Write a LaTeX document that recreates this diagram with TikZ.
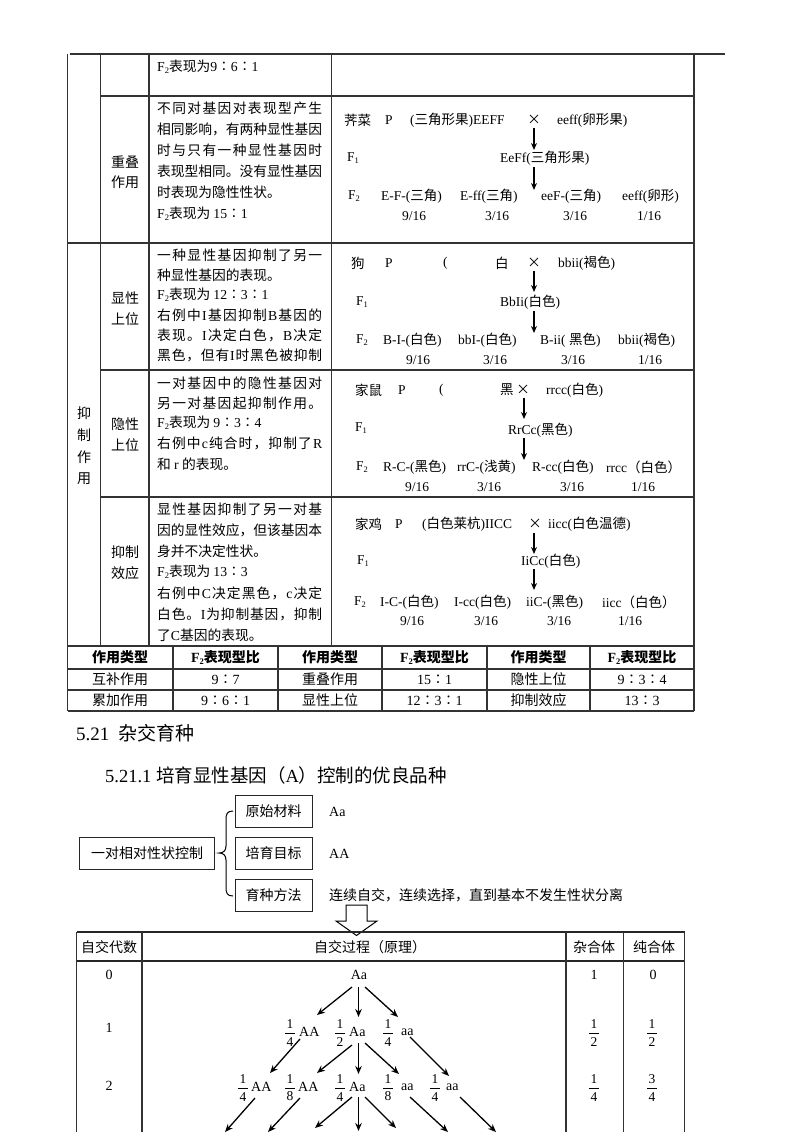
\documentclass[tikz,border=0pt]{standalone}
\usepackage{fontspec}
\setmainfont{Liberation Serif}
\newfontfamily\cjk{Noto Sans CJK SC}
\usetikzlibrary{arrows.meta}
\XeTeXinterchartokenstate=1
\newXeTeXintercharclass\CJKcls
\newcount\mycnt
\def\setcjkrange#1#2{\mycnt=#1\relax
  \loop\XeTeXcharclass\mycnt=\CJKcls\relax\advance\mycnt by 1\relax\ifnum\mycnt<#2\relax\repeat}
\setcjkrange{"3000}{"3040}
\setcjkrange{"4E00}{"A000}
\setcjkrange{"FF00}{"FFF0}
\XeTeXcharclass"2236=\CJKcls
\XeTeXcharclass"00D7=\CJKcls
\XeTeXinterchartoks 0 \CJKcls={\cjk}
\XeTeXinterchartoks 4095 \CJKcls={\cjk}
\XeTeXinterchartoks \CJKcls 0={\rmfamily}
\XeTeXinterchartoks 4095 0={\rmfamily}
\def\spreadA#1{#1\spreadB}
\def\spreadB#1{\ifx\relax#1\else\hfil#1\expandafter\spreadB\fi}
\newcommand\jl[1]{\makebox[165pt][s]{\spreadA#1\relax}}
\newcommand\lowsub[1]{\raisebox{-0.35ex}{\fontsize{8.5}{9}\selectfont #1}}
\newcommand\fracd[2]{\vbox{\offinterlineskip\halign{\hfil\kern1.6pt##\kern1.6pt\hfil\cr #1\cr\noalign{\kern4pt\hrule height0.7pt\kern3.5pt}#2\cr}}}
\tikzset{
 tl/.style={draw=black!80,line width=1.1pt},
 tk/.style={draw=black!80,line width=2.4pt},
 tx/.style={anchor=west,inner sep=0pt,font=\fontsize{13.75}{16}\selectfont},
 lb/.style={anchor=center,inner sep=0pt,font=\fontsize{14}{16}\selectfont},
 gn/.style={anchor=west,inner sep=0pt,font=\fontsize{13.5}{16}\selectfont},
 gc/.style={anchor=center,inner sep=0pt,font=\fontsize{13.5}{16}\selectfont},
 hd/.style={anchor=center,inner sep=0pt,font=\fontsize{14}{16}\selectfont\bfseries},
 sm/.style={anchor=center,inner sep=0pt,font=\fontsize{14}{16}\selectfont},
 bx/.style={draw=black!85,line width=1pt,minimum height=32pt,inner sep=0pt,font=\fontsize{14}{16}\selectfont},
 arr/.style={-{Stealth[length=8pt,width=6.5pt]},line width=1.3pt},
 garr/.style={-{Stealth[length=7pt,width=6pt]},line width=1.2pt},
 fr/.style={anchor=center,inner sep=0pt,font=\fontsize{13.5}{15}\selectfont},
}
\begin{document}
\begin{tikzpicture}[x=1pt,y=-1pt]
\useasboundingbox (0,0) rectangle (800,1132);
% ---------- main table lines
\draw[tl] (70,54) -- (725,54);
\draw[tl] (67.5,54) -- (67.5,711);
\draw[tl] (100.5,54) -- (100.5,646);
\draw[tl] (149,54) -- (149,646);
\draw[tl] (331.5,54) -- (331.5,646);
\draw[tl] (694,54) -- (694,711);
\draw[tl] (100.5,96) -- (694,96);
\draw[tl] (67.5,243) -- (694,243);
\draw[tl] (100.5,370) -- (694,370);
\draw[tl] (100.5,497) -- (694,497);
% summary table
\draw[draw=black!80,line width=2pt] (67.5,646) -- (694,646);
\draw[tl] (67.5,669) -- (694,669);
\draw[tl] (67.5,690) -- (694,690);
\draw[tl] (67.5,711) -- (694,711);
\draw[tl] (173,646) -- (173,711);
\draw[tl] (382,646) -- (382,711);
\draw[tl] (590,646) -- (590,711);
\draw[tk] (278,646) -- (278,711);
\draw[tk] (487,646) -- (487,711);
% ---------- row 0
\node[tx] (r0) at (157,67) {F\lowsub{2}表现为9∶6∶1};
% ---------- 重叠作用
\node[lb] (l1a) at (125,162) {重叠};
\node[lb] (l1b) at (125,182) {作用};
\node[tx] (c1a) at (157,108) {\jl{不同对基因对表现型产生}};
\node[tx] (c1b) at (157,129) {\jl{相同影响，有两种显性基因}};
\node[tx] (c1c) at (157,150) {\jl{时与只有一种显性基因时}};
\node[tx] (c1d) at (157,171) {\jl{表现型相同。没有显性基因}};
\node[tx] (c1e) at (157,192) {时表现为隐性性状。};
\node[tx] (c1f) at (157,214) {F\lowsub{2}表现为 15∶1};
\node[gn] (j1) at (344,120) {荠菜};
\node[gn] (j2) at (385,120) {P};
\node[gn] (j3) at (410,120) {(三角形果)EEFF};
\node[gc] (j4) at (534,120) {×};
\node[gn] (j5) at (557,120) {eeff(卵形果)};
\node[gn] (j6) at (347,158) {F\lowsub{1}};
\node[gn] (j7) at (500,158) {EeFf(三角形果)};
\node[gn] (j8) at (348,196) {F\lowsub{2}};
\node[gn] (j9) at (381,196) {E-F-(三角)};
\node[gn] (j10) at (460,196) {E-ff(三角)};
\node[gn] (j11) at (541,196) {eeF-(三角)};
\node[gn] (j12) at (622,196) {eeff(卵形)};
\node[gc] (j13) at (414,216) {9/16};
\node[gc] (j14) at (497,216) {3/16};
\node[gc] (j15) at (575,216) {3/16};
\node[gc] (j16) at (649,216) {1/16};
\coordinate (ja1) at (534,128); \coordinate (jb1) at (534,150);
\coordinate (ja2) at (534,167); \coordinate (jb2) at (534,190);
\draw[garr] (ja1) -- (jb1);
\draw[garr] (ja2) -- (jb2);
% ---------- 抑制作用 outer label
\node[lb] (o1) at (84,413) {抑};
\node[lb] (o2) at (84,435) {制};
\node[lb] (o3) at (84,457) {作};
\node[lb] (o4) at (84,479) {用};
% ---------- 显性上位
\node[lb] (l2a) at (125,298) {显性};
\node[lb] (l2b) at (125,319) {上位};
\node[tx] (c2a) at (157,255) {\jl{一种显性基因抑制了另一}};
\node[tx] (c2b) at (157,275) {种显性基因的表现。};
\node[tx] (c2c) at (157,295) {F\lowsub{2}表现为 12∶3∶1};
\node[tx] (c2d) at (157,315) {\jl{右例中I基因抑制B基因的}};
\node[tx] (c2e) at (157,335) {\jl{表现。I决定白色，B决定}};
\node[tx] (c2f) at (157,355) {\jl{黑色，但有I时黑色被抑制}};
\node[gn] (d1) at (351,263) {狗};
\node[gn] (d2) at (385,263) {P};
\node[gn] (d3) at (443,263) {(};
\node[gn] (d4) at (495,263) {白};
\node[gc] (d5) at (534,263) {×};
\node[gn] (d6) at (558,263) {bbii(褐色)};
\node[gn] (d7) at (356,302) {F\lowsub{1}};
\node[gn] (d8) at (500,302) {BbIi(白色)};
\node[gn] (d9) at (356,340) {F\lowsub{2}};
\node[gn] (d10) at (383,340) {B-I-(白色)};
\node[gn] (d11) at (458,340) {bbI-(白色)};
\node[gn] (d12) at (540,340) {B-ii( 黑色)};
\node[gn] (d13) at (618,340) {bbii(褐色)};
\node[gc] (d14) at (418,360) {9/16};
\node[gc] (d15) at (495,360) {3/16};
\node[gc] (d16) at (573,360) {3/16};
\node[gc] (d17) at (650,360) {1/16};
\coordinate (da1) at (534,271); \coordinate (db1) at (534,292);
\coordinate (da2) at (534,311); \coordinate (db2) at (534,333);
\draw[garr] (da1) -- (db1);
\draw[garr] (da2) -- (db2);
% ---------- 隐性上位
\node[lb] (l3a) at (125,424) {隐性};
\node[lb] (l3b) at (125,445) {上位};
\node[tx] (c3a) at (157,383) {\jl{一对基因中的隐性基因对}};
\node[tx] (c3b) at (157,403) {\jl{另一对基因起抑制作用。}};
\node[tx] (c3c) at (157,423) {F\lowsub{2}表现为 9∶3∶4};
\node[tx] (c3d) at (157,443) {\jl{右例中c纯合时，抑制了R}};
\node[tx] (c3e) at (157,464) {和 r 的表现。};
\node[gn] (m1) at (355,390) {家鼠};
\node[gn] (m2) at (398,390) {P};
\node[gn] (m3) at (439,390) {(};
\node[gn] (m4) at (500,390) {黑};
\node[gc] (m5) at (523,390) {×};
\node[gn] (m6) at (546,390) {rrcc(白色)};
\node[gn] (m7) at (355,428) {F\lowsub{1}};
\node[gn] (m8) at (508,430) {RrCc(黑色)};
\node[gn] (m9) at (356,467) {F\lowsub{2}};
\node[gn] (m10) at (383,467) {R-C-(黑色)};
\node[gn] (m11) at (457,467) {rrC-(浅黄)};
\node[gn] (m12) at (532,467) {R-cc(白色)};
\node[gn] (m13) at (606,467) {rrcc（白色）};
\node[gc] (m14) at (417,487) {9/16};
\node[gc] (m15) at (489,487) {3/16};
\node[gc] (m16) at (572,487) {3/16};
\node[gc] (m17) at (643,487) {1/16};
\coordinate (ma1) at (524,398); \coordinate (mb1) at (524,419);
\coordinate (ma2) at (524,438); \coordinate (mb2) at (524,460);
\draw[garr] (ma1) -- (mb1);
\draw[garr] (ma2) -- (mb2);
% ---------- 抑制效应
\node[lb] (l4a) at (125,552) {抑制};
\node[lb] (l4b) at (125,573) {效应};
\node[tx] (c4a) at (157,509) {\jl{显性基因抑制了另一对基}};
\node[tx] (c4b) at (157,530) {\jl{因的显性效应，但该基因本}};
\node[tx] (c4c) at (157,551) {身并不决定性状。};
\node[tx] (c4d) at (157,572) {F\lowsub{2}表现为 13∶3};
\node[tx] (c4e) at (157,593) {\jl{右例中C决定黑色，c决定}};
\node[tx] (c4f) at (157,614) {\jl{白色。I为抑制基因，抑制}};
\node[tx] (c4g) at (157,635) {了C基因的表现。};
\node[gn] (k1) at (355,524) {家鸡};
\node[gn] (k2) at (395,524) {P};
\node[gn] (k3) at (422,524) {(白色莱杭)IICC};
\node[gc] (k4) at (535,524) {×};
\node[gn] (k5) at (548,524) {iicc(白色温德)};
\node[gn] (k6) at (357,561) {F\lowsub{1}};
\node[gn] (k7) at (521,561) {IiCc(白色)};
\node[gn] (k8) at (354,602) {F\lowsub{2}};
\node[gn] (k9) at (380,602) {I-C-(白色)};
\node[gn] (k10) at (454,602) {I-cc(白色)};
\node[gn] (k11) at (526,602) {iiC-(黑色)};
\node[gn] (k12) at (602,602) {iicc（白色）};
\node[gc] (k13) at (412,621) {9/16};
\node[gc] (k14) at (486,621) {3/16};
\node[gc] (k15) at (559,621) {3/16};
\node[gc] (k16) at (630,621) {1/16};
\coordinate (ka1) at (534,533); \coordinate (kb1) at (534,554);
\coordinate (ka2) at (534,569); \coordinate (kb2) at (534,590);
\draw[garr] (ka1) -- (kb1);
\draw[garr] (ka2) -- (kb2);
% ---------- summary table texts
\node[hd] (s1) at (120,657.5) {作用类型};
\node[hd] (s2) at (225.5,657.5) {F\lowsub{2}表现型比};
\node[hd] (s3) at (330,657.5) {作用类型};
\node[hd] (s4) at (434.5,657.5) {F\lowsub{2}表现型比};
\node[hd] (s5) at (538.5,657.5) {作用类型};
\node[hd] (s6) at (642,657.5) {F\lowsub{2}表现型比};
\node[sm] (s7) at (120,679.5) {互补作用};
\node[sm] (s8) at (225.5,679.5) {9∶7};
\node[sm] (s9) at (330,679.5) {重叠作用};
\node[sm] (s10) at (434.5,679.5) {15∶1};
\node[sm] (s11) at (538.5,679.5) {隐性上位};
\node[sm] (s12) at (642,679.5) {9∶3∶4};
\node[sm] (s13) at (120,700.5) {累加作用};
\node[sm] (s14) at (225.5,700.5) {9∶6∶1};
\node[sm] (s15) at (330,700.5) {显性上位};
\node[sm] (s16) at (434.5,700.5) {12∶3∶1};
\node[sm] (s17) at (538.5,700.5) {抑制效应};
\node[sm] (s18) at (642,700.5) {13∶3};
% ---------- headings
\node[anchor=west,inner sep=0pt,font=\fontsize{19}{22}\selectfont] (h1) at (76,733) {5.21\hspace{9pt}杂交育种};
\node[anchor=west,inner sep=0pt,font=\fontsize{18.5}{22}\selectfont] (h2) at (105,775) {5.21.1 培育显性基因（A）控制的优良品种};
% ---------- breeding diagram
\node[bx,minimum width=135pt] (b0) at (147,853) {一对相对性状控制};
\node[bx,minimum width=77pt] (b1) at (273.5,811.5) {原始材料};
\node[bx,minimum width=77pt] (b2) at (273.5,853) {培育目标};
\node[bx,minimum width=77pt] (b3) at (273.5,895.5) {育种方法};
\node[tx,font=\fontsize{14}{16}\selectfont] (v1) at (329,812) {Aa};
\node[tx,font=\fontsize{14}{16}\selectfont] (v2) at (329,854) {AA};
\node[tx,font=\fontsize{14}{16}\selectfont] (v3) at (329,895) {连续自交，连续选择，直到基本不发生性状分离};
\draw[line width=1pt] (233,811) .. controls (227,811) and (226,814) .. (226,820) -- (226,846)
  .. controls (226,851) and (223,853) .. (219,853) .. controls (223,853) and (226,855) .. (226,860)
  -- (226,887) .. controls (226,893) and (227,896) .. (233,896);
\draw[line width=1pt,fill=white] (346,905) -- (367,905) -- (367,921) -- (377,921) -- (356.5,935.5)
  -- (336,921) -- (346,921) -- cycle;
% ---------- self-cross table
\draw[draw=black!85,line width=1.4pt] (76.5,932) -- (684.5,932);
\draw[draw=black!85,line width=1.4pt] (76.5,961) -- (684.5,961);
\draw[tl] (76.5,932) -- (76.5,1132);
\draw[tl] (142,932) -- (142,1132);
\draw[tl] (566,932) -- (566,1132);
\draw[tl] (623.5,932) -- (623.5,1132);
\draw[tl] (684.5,932) -- (684.5,1132);
\node[sm] (t1) at (109,947) {自交代数};
\node[sm,anchor=west] (t2) at (314,947) {自交过程（原理）};
\node[sm] (t3) at (594,947) {杂合体};
\node[sm] (t4) at (654,947) {纯合体};
\node[sm] (u0) at (109,975) {0};
\node[sm] (u1) at (109,1028) {1};
\node[sm] (u2) at (109,1086) {2};
\node[sm] (z0) at (594,975) {1};
\node[sm] (p0) at (653,975) {0};
\node[fr] (z1) at (594,1033) {\fracd{1}{2}};
\node[fr] (p1) at (652,1033) {\fracd{1}{2}};
\node[fr] (z2) at (594,1088) {\fracd{1}{4}};
\node[fr] (p2) at (652,1088) {\fracd{3}{4}};
% tree
\node[sm] (g0) at (359,975) {Aa};
\node[fr] (f11) at (290,1033) {\fracd{1}{4}};
\node[gn,font=\fontsize{14}{16}\selectfont] (g11) at (299,1032) {AA};
\node[fr] (f12) at (340,1033) {\fracd{1}{2}};
\node[gn,font=\fontsize{14}{16}\selectfont] (g12) at (349,1032) {Aa};
\node[fr] (f13) at (388,1033) {\fracd{1}{4}};
\node[gn,font=\fontsize{14}{16}\selectfont] (g13) at (401,1032) {aa};
\node[fr] (f21) at (243,1088) {\fracd{1}{4}};
\node[gn,font=\fontsize{14}{16}\selectfont] (g21) at (251,1087) {AA};
\node[fr] (f22) at (290,1088) {\fracd{1}{8}};
\node[gn,font=\fontsize{14}{16}\selectfont] (g22) at (298,1087) {AA};
\node[fr] (f23) at (340,1088) {\fracd{1}{4}};
\node[gn,font=\fontsize{14}{16}\selectfont] (g23) at (349,1087) {Aa};
\node[fr] (f24) at (388,1088) {\fracd{1}{8}};
\node[gn,font=\fontsize{14}{16}\selectfont] (g24) at (401,1087) {aa};
\node[fr] (f25) at (435,1088) {\fracd{1}{4}};
\node[gn,font=\fontsize{14}{16}\selectfont] (g25) at (446,1087) {aa};
\coordinate (a0l) at (352,987); \coordinate (a0le) at (317,1015);
\coordinate (a0m) at (358.5,987); \coordinate (a0me) at (358.5,1017);
\coordinate (a0r) at (365,987); \coordinate (a0re) at (398,1017);
\draw[arr] (a0l) -- (a0le);
\draw[arr] (a0m) -- (a0me);
\draw[arr] (a0r) -- (a0re);
\coordinate (a1a) at (300,1039); \coordinate (a1ae) at (270,1073);
\coordinate (a1b) at (352,1045); \coordinate (a1be) at (317,1073);
\coordinate (a1c) at (358.5,1043); \coordinate (a1ce) at (358.5,1074);
\coordinate (a1d) at (365,1043); \coordinate (a1de) at (399,1074);
\coordinate (a1f) at (410,1037); \coordinate (a1fe) at (449,1076);
\draw[arr] (a1a) -- (a1ae);
\draw[arr] (a1b) -- (a1be);
\draw[arr] (a1c) -- (a1ce);
\draw[arr] (a1d) -- (a1de);
\draw[arr] (a1f) -- (a1fe);
\coordinate (a2a) at (255,1098); \coordinate (a2ae) at (225,1132);
\coordinate (a2b) at (300,1098); \coordinate (a2be) at (268,1132);
\coordinate (a2c) at (352,1097); \coordinate (a2ce) at (315,1128);
\coordinate (a2d) at (358.5,1097); \coordinate (a2de) at (358.5,1131);
\coordinate (a2e) at (365,1097); \coordinate (a2ee) at (396,1128);
\coordinate (a2f) at (410,1097); \coordinate (a2fe) at (448,1132);
\coordinate (a2g) at (460,1097); \coordinate (a2ge) at (496,1132);
\draw[arr] (a2a) -- (a2ae);
\draw[arr] (a2b) -- (a2be);
\draw[arr] (a2c) -- (a2ce);
\draw[arr] (a2d) -- (a2de);
\draw[arr] (a2e) -- (a2ee);
\draw[arr] (a2f) -- (a2fe);
\draw[arr] (a2g) -- (a2ge);
\end{tikzpicture}
\end{document}
